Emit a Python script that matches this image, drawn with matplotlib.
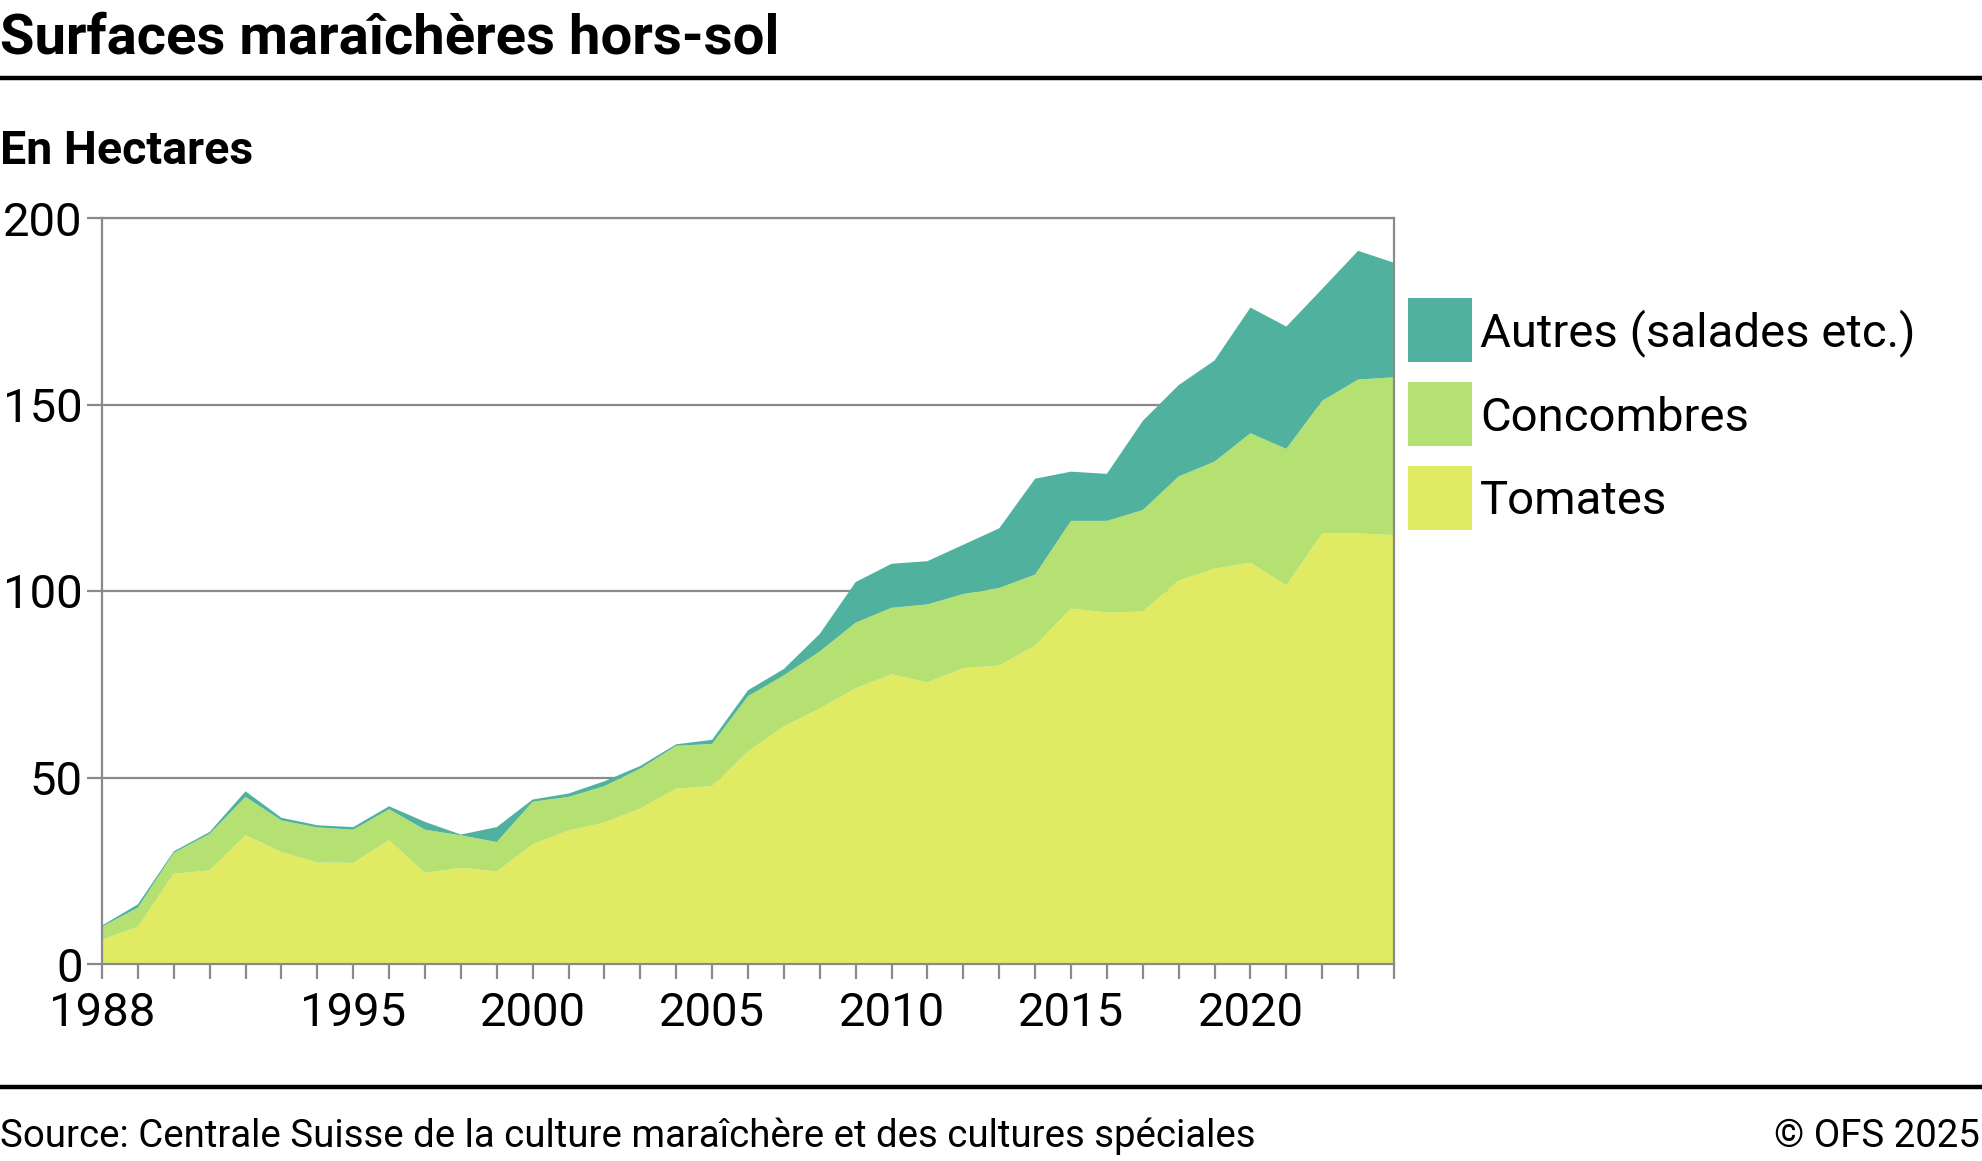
import matplotlib.pyplot as plt
from matplotlib.patches import Rectangle
from matplotlib.lines import Line2D

# Data (hectares)
years = list(range(1988, 2025))
tomates = [6.5, 10.0, 24.2, 25.1, 34.5, 30.0, 27.2, 27.1, 33.2, 24.4,
           25.8, 24.8, 32.1, 35.8, 37.9, 41.7, 47.0, 47.7, 57.0, 63.7,
           68.5, 73.9, 77.7, 75.5, 79.3, 80.0, 85.4, 95.3, 94.2, 94.5,
           102.8, 106.0, 107.6, 101.5, 115.5, 115.4, 115.0]
concombres = [3.5, 5.1, 5.6, 9.8, 10.3, 8.5, 9.4, 8.9, 8.3, 11.6,
              8.7, 7.9, 11.4, 9.0, 9.8, 10.7, 11.5, 11.3, 14.8, 13.7,
              15.3, 17.6, 17.8, 20.9, 19.9, 20.8, 19.0, 23.5, 24.6, 27.2,
              27.9, 28.7, 34.7, 36.6, 35.5, 41.3, 42.3]
autres = [0.3, 0.9, 0.4, 0.5, 1.5, 0.7, 0.6, 0.7, 0.8, 2.1,
          0.2, 4.0, 0.6, 0.9, 1.3, 0.7, 0.4, 1.1, 1.6, 1.7,
          4.7, 10.9, 11.8, 11.6, 13.2, 16.0, 25.7, 13.2, 12.6, 23.9,
          24.5, 27.1, 33.7, 32.8, 30.0, 34.5, 30.7]

series_names = ["Tomates", "Concombres", "Autres (salades etc.)"]
colors = ["#e0ea62", "#b5e173", "#51b19f"]
label_years = [1988, 1995, 2000, 2005, 2010, 2015, 2020]
y_ticks = [0, 50, 100, 150, 200]

W, H = 1983, 1161
GREY = "#8a8a8a"
plt.rcParams['font.family'] = ["Roboto", "DejaVu Sans"]

def fy(px):
    # pixel row (from top) -> figure fraction
    return 1 - px / H

fig = plt.figure(figsize=(W / 100, H / 100), dpi=100)

# plot area in pixel coords of the reference
left, right, top, bottom = 102, 1394, 218, 964
ax = fig.add_axes([left / W, fy(bottom), (right - left) / W, (bottom - top) / H])

ax.stackplot(years, tomates, concombres, autres, colors=colors,
             labels=series_names, linewidth=0)

ax.set_xlim(years[0], years[-1])
ax.set_ylim(0, 200)
ax.set_yticks(y_ticks)
ax.set_yticklabels([str(v) for v in y_ticks])
ax.set_xticks(years)
ax.set_xticklabels([str(y) if y in label_years else "" for y in years])

ax.set_axisbelow(True)
ax.yaxis.grid(True, color=GREY, linewidth=1.6)
for s in ax.spines.values():
    s.set_color(GREY)
    s.set_linewidth(1.6)
ax.tick_params(axis='both', color=GREY, width=1.6, length=10.5,
               labelsize=34, labelcolor='black')
ax.tick_params(axis='y', pad=3.5)
ax.tick_params(axis='x', pad=9)

# legend drawn as boxes + labels, top entry = top layer
box_x, box_w, box_h = 1408, 64, 64
box_tops = [466, 382, 298]
for name, c, bt in zip(series_names, colors, box_tops):
    fig.patches.append(Rectangle((box_x / W, fy(bt + box_h)), box_w / W, box_h / H,
                                 transform=fig.transFigure, facecolor=c,
                                 edgecolor='none'))
    fig.text(1480 / W, fy(bt + box_h / 2 + 16.5), name, fontsize=34,
             va='baseline', ha='left')

# header / footer
fig.text(0, fy(54), "Surfaces maraîchères hors-sol", fontsize=40.5,
         fontweight='bold', va='baseline', ha='left')
fig.text(0, fy(164), "En Hectares", fontsize=33.5, fontweight='bold',
         va='baseline', ha='left')
fig.add_artist(Line2D([0, 1], [fy(77.5), fy(77.5)], color='black',
                      linewidth=3.2, transform=fig.transFigure))
fig.add_artist(Line2D([0, 1], [fy(1087), fy(1087)], color='black',
                      linewidth=3.2, transform=fig.transFigure))
fig.text(0, fy(1147),
         "Source: Centrale Suisse de la culture maraîchère et des cultures spéciales",
         fontsize=27.6, va='baseline', ha='left')
fig.text(1980 / W, fy(1147), "© OFS 2025", fontsize=27.6,
         va='baseline', ha='right')

fig.savefig("out.png", dpi=100)
